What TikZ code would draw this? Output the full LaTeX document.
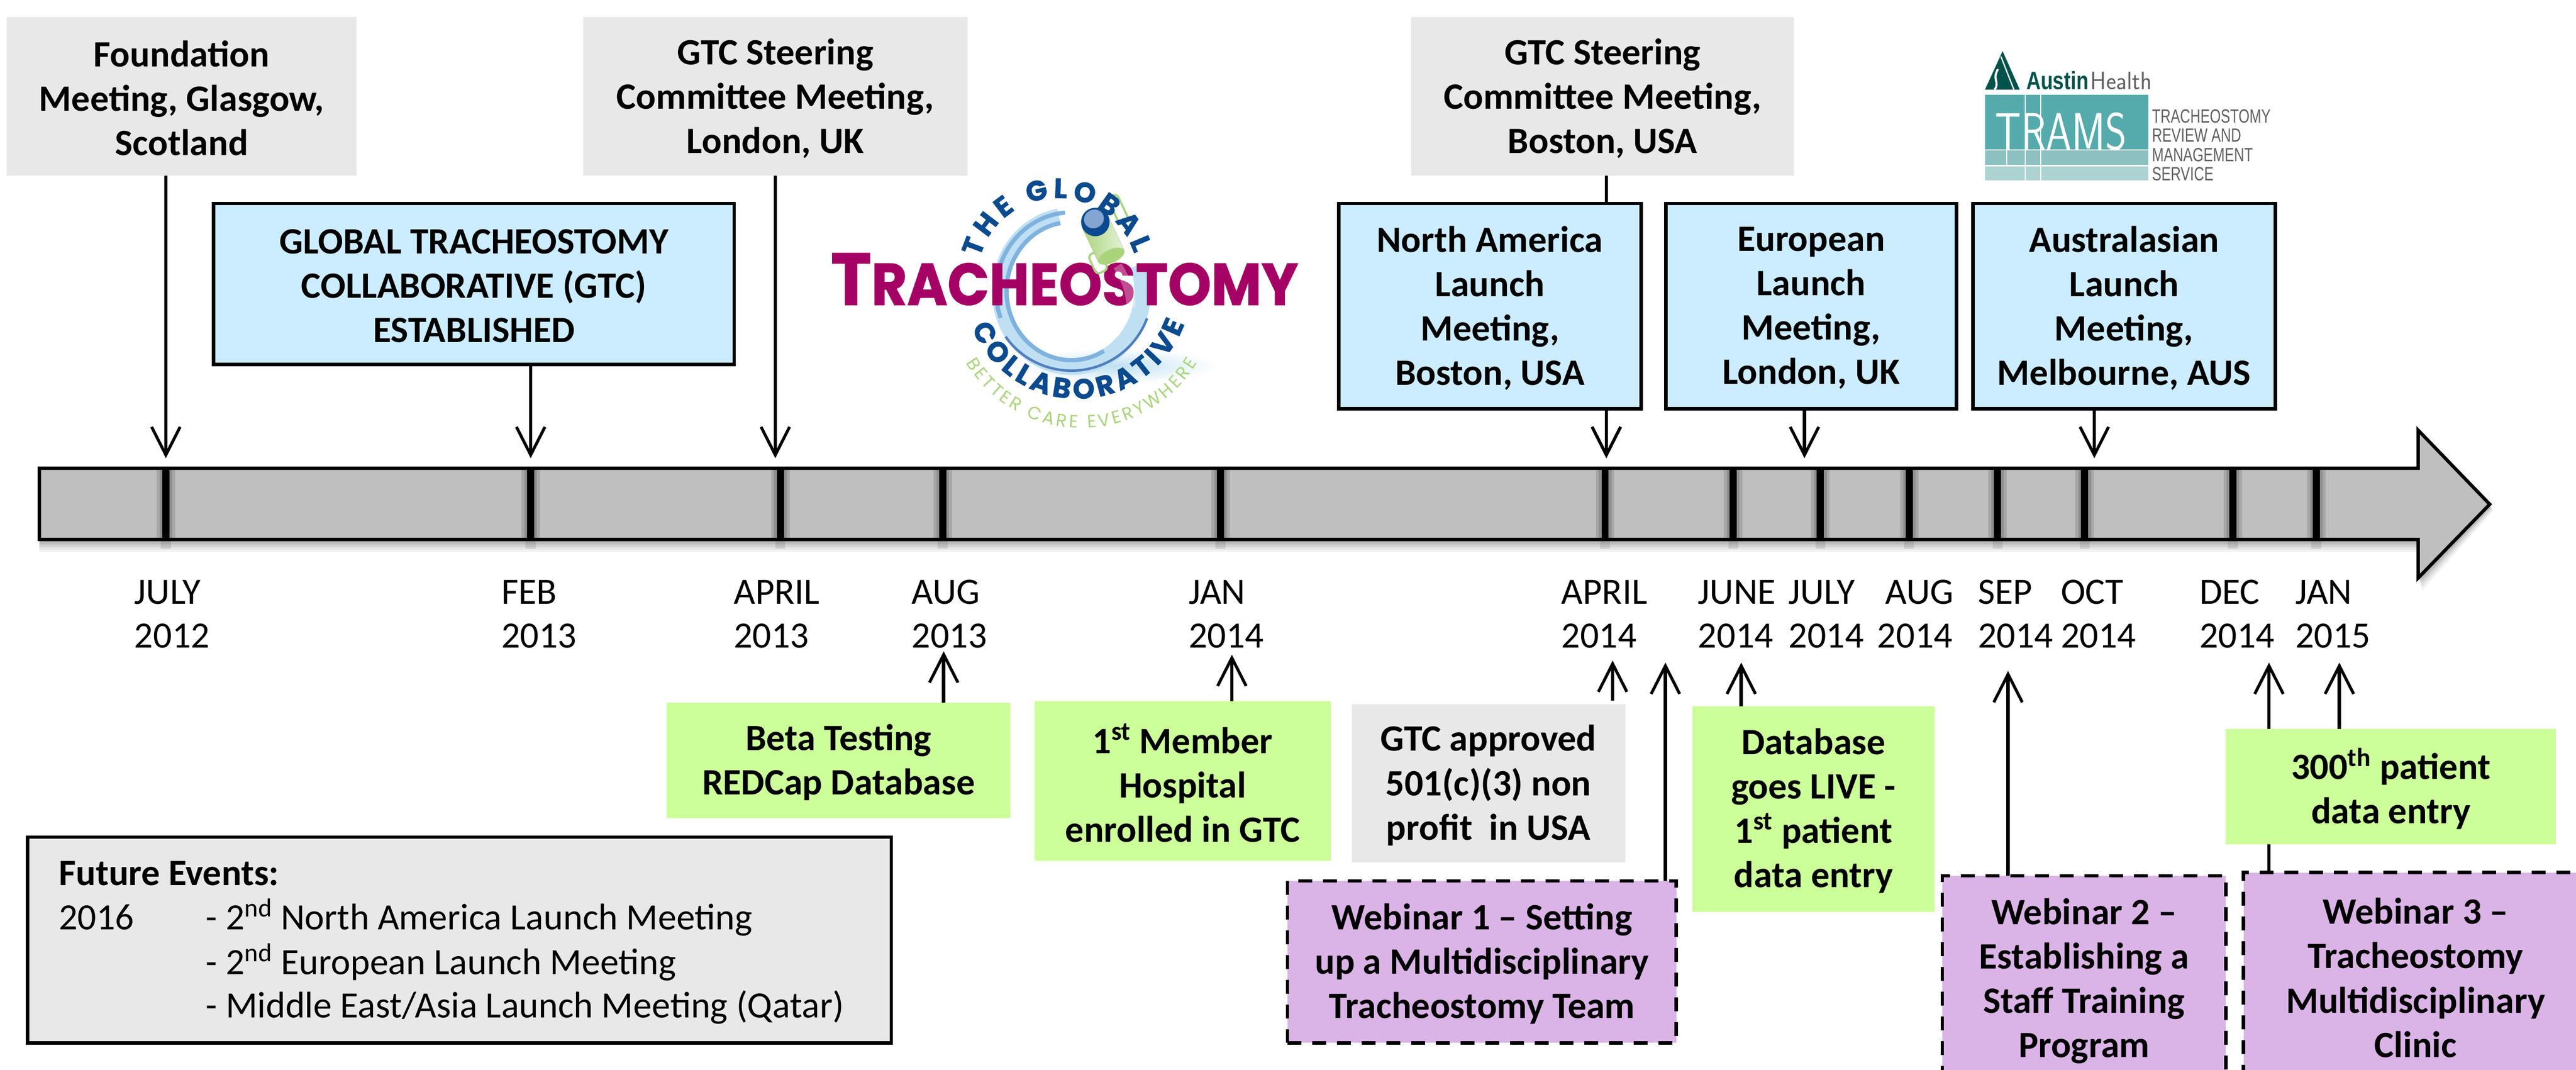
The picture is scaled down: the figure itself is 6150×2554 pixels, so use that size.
\documentclass[tikz,border=0pt]{standalone}
\usepackage{fontspec}
\setmainfont{Carlito}
\newfontfamily\logofont[BoldFeatures={FakeBold=1.2}]{Poppins}
\newfontfamily\trfont{Liberation Sans}
\usetikzlibrary{arrows.meta,decorations.text}
\definecolor{greybox}{HTML}{E8E8E8}
\definecolor{bluebox}{HTML}{CCECFF}
\definecolor{greenbox}{HTML}{CCFF99}
\definecolor{purplebox}{HTML}{DAB4E6}
\definecolor{bar}{HTML}{BFBFBF}
\definecolor{lmag}{HTML}{A50064}
\definecolor{lblue}{HTML}{0B4A8F}
\definecolor{lgreen}{HTML}{AAD47C}
\definecolor{ringA}{HTML}{BFE0F3}
\definecolor{ringB}{HTML}{7FB2DE}
\definecolor{ringC}{HTML}{4F7FBF}
\definecolor{ateal}{HTML}{00524A}
\definecolor{tealA}{HTML}{55ABAC}
\definecolor{tealB}{HTML}{8DC0C1}
\definecolor{tealC}{HTML}{ADD2D2}
\definecolor{tgrey}{HTML}{5F6062}
\tikzset{
 x=0.01cm,y=-0.01cm,
 boxbase/.style={inner sep=0pt,outer sep=0pt},
 boxtext/.style={inner sep=0pt,outer sep=0pt,align=center,yshift=-0.045cm,font=\fontsize{25.2}{30.1}\selectfont\bfseries},
 greyb/.style={boxbase,fill=greybox},
 blueb/.style={boxbase,fill=bluebox,draw=black,line width=0.08cm},
 greenb/.style={boxbase,fill=greenbox},
 webb/.style={boxbase,fill=purplebox,draw=black,line width=0.08cm,dash pattern=on 0.33cm off 0.26cm},
 conn/.style={line width=0.08cm,-{Straight Barb[length=0.67cm,width=0.68cm,line width=0.07cm]}},
 tickm/.style={line width=0.17cm},
 datel/.style={inner sep=0pt,outer sep=0pt,anchor=west,align=left,font=\fontsize{25.2}{29.8}\selectfont},
 futt/.style={anchor=base west,inner sep=0pt,font=\fontsize{25.2}{30}\selectfont},
 tgl/.style={anchor=base west,inner sep=0pt,text=tgrey,font=\trfont\fontsize{13}{13}\selectfont},
}
% name, style, x1,y1,x2,y2, text
\newcommand{\bx}[7]{%
 \pgfmathsetmacro{\cxx}{(#3+#5)/2}\pgfmathsetmacro{\cyy}{(#4+#6)/2}%
 \pgfmathsetmacro{\wdd}{(#5-#3)*0.01}\pgfmathsetmacro{\htt}{(#6-#4)*0.01}%
 \node[#2,minimum width=\wdd cm,minimum height=\htt cm] (#1) at (\cxx,\cyy) {};
 \node[boxtext] (#1text) at (#1.center) {#7};}
\newcommand{\dt}[4]{\node[datel] (#1) at (#2,1466) {#3\\#4};}
\newcommand{\sps}[1]{\textsuperscript{#1}}
\begin{document}
\begin{tikzpicture}
\useasboundingbox (0,0) rectangle (6150,2554);
% timeline shadow
\foreach \o/\a in {30/0.05,24/0.06,18/0.08,12/0.10,6/0.12}{
 \fill[black,opacity=\a] (94,1118+\o) -- (5773+\o*0.3,1118+\o) -- (5773+\o*0.3,1027+\o) -- (5944+\o*0.3,1204+\o*0.5) -- (5773+\o*0.3,1380+\o) -- (5773+\o*0.3,1288+\o) -- (94,1288+\o) -- cycle;
}
\draw[line width=0.08cm,fill=bar,miter limit=10] (94,1118) -- (5773,1118) -- (5773,1027) -- (5944,1204) -- (5773,1380) -- (5773,1288) -- (94,1288) -- cycle;
\foreach \t in {396,1267,1863,2251,2914,3832,4138,4346,4558,4769,4977,5331,5530}{
 \draw[black,opacity=.12,line width=0.44cm] (\t,1122) -- (\t,1284);
 \draw[black,opacity=.15,line width=0.30cm] (\t,1122) -- (\t,1284);
 \draw[black,opacity=.10,line width=0.24cm] (\t,1288) -- (\t,1310);
 \draw[tickm] (\t,1118) -- (\t,1288);
}
\coordinate (ta) at (396,1094);
\coordinate (tb) at (1267,1094);
\coordinate (tc) at (1851,1094);
\coordinate (td) at (3835,1094);
\coordinate (te) at (4308,1094);
\coordinate (tf) at (5000,1094);
% upper arrows
\bx{foundation}{greyb}{16}{40}{851}{420}{Foundation\\Meeting, Glasgow,\\Scotland}
\bx{london}{greyb}{1392}{40}{2310}{420}{GTC Steering\\Committee Meeting,\\London, UK}
\bx{boston}{greyb}{3369}{40}{4283}{420}{GTC Steering\\Committee Meeting,\\Boston, USA}
\draw[conn] (foundation.south -| ta) -- (ta);
\draw[conn] (london.south -| tc) -- (tc);
\draw[conn] (boston.south -| td) -- (td);
\bx{gtc}{blueb}{510}{486}{1753}{870}{GLOBAL TRACHEOSTOMY\\COLLABORATIVE (GTC)\\ESTABLISHED}
\bx{na}{blueb}{3196}{486}{3918}{976}{North America\\Launch\\Meeting,\\Boston, USA}
\bx{eu}{blueb}{3977}{486}{4671}{976}{European\\Launch\\Meeting,\\London, UK}
\bx{au}{blueb}{4710}{486}{5432}{976}{Australasian\\Launch\\Meeting,\\Melbourne, AUS}
\draw[conn] (gtc.south -| tb) -- (tb);
\draw[conn] (na.south -| td) -- (td);
\draw[conn] (eu.south -| te) -- (te);
\draw[conn] (au.south -| tf) -- (tf);
% dates
\dt{d1}{321}{JULY}{2012}
\dt{d2}{1197}{FEB}{2013}
\dt{d3}{1752}{APRIL}{2013}
\dt{d4}{2177}{AUG}{2013}
\dt{d5}{2838}{JAN}{2014}
\dt{d6}{3728}{APRIL}{2014}
\dt{d7}{4054}{JUNE}{2014}
\dt{d8}{4270}{JULY}{2014}
\dt{d9}{4482}{\hspace*{0.19cm}AUG}{2014}
\dt{d10}{4722}{SEP}{2014}
\dt{d11}{4920}{OCT}{2014}
\dt{d12}{5251}{DEC}{2014}
\dt{d13}{5480}{JAN}{2015}
% lower arrows
\coordinate (ua) at (2253,1555);
\coordinate (ub) at (2941,1563);
\coordinate (uc) at (3850,1577);
\coordinate (ud) at (3976,1582);
\coordinate (ue) at (4157,1582);
\coordinate (uf) at (4794,1602);
\coordinate (ug) at (5417,1582);
\coordinate (uh) at (5585,1582);
\coordinate (ucs) at (3850,1673);
\bx{web3}{webb}{5356}{2083}{6178}{2577}{Webinar 3 --\\Tracheostomy\\Multidisciplinary\\Clinic}
\draw[conn] (web3.north -| ug) -- (ug);
\bx{beta}{greenb}{1592}{1678}{2412}{1953}{Beta Testing\\REDCap Database}
\bx{member}{greenb}{2470}{1674}{3177}{2055}{1\sps{st} Member\\Hospital\\enrolled in GTC}
\bx{approved}{greyb}{3227}{1682}{3880}{2059}{GTC approved\\501(c)(3) non\\profit\ \ in USA}
\bx{db}{greenb}{4040}{1686}{4619}{2177}{Database\\goes LIVE -\\1\sps{st} patient\\data entry}
\bx{p300}{greenb}{5314}{1741}{6102}{2016}{300\sps{th} patient\\data entry}
\draw[conn] (beta.north -| ua) -- (ua);
\draw[conn] (member.north -| ub) -- (ub);
\draw[conn] (ucs) -- (uc);
\draw[conn] (db.north -| ue) -- (ue);
\draw[conn] (p300.north -| uh) -- (uh);
\bx{web1}{webb}{3074}{2103}{4002}{2490}{Webinar 1 -- Setting\\up a Multidisciplinary\\Tracheostomy Team}
\bx{web2}{webb}{4637}{2091}{5314}{2585}{Webinar 2 --\\Establishing a\\Staff Training\\Program}
\draw[conn] (web1.north -| ud) -- (ud);
\draw[conn] (web2.north -| uf) -- (uf);
% future box
\bx{future}{boxbase,fill=greybox,draw=black,line width=0.08cm}{66}{1999}{2128}{2490}{}
\node[futt,font=\fontsize{25.2}{30}\selectfont\bfseries] (f0) at (140,2114) {Future Events:};
\node[futt] (f1) at (140,2220) {2016};
\node[futt] (f2) at (491,2220) {- 2\sps{nd} North America Launch Meeting};
\node[futt] (f3) at (491,2327) {- 2\sps{nd} European Launch Meeting};
\node[futt] (f4) at (491,2430) {- Middle East/Asia Launch Meeting (Qatar)};
% GTC logo: soft base and ring
\shade[inner color=ringA,outer color=white] (2666,874) ellipse[x radius=2.4cm,y radius=0.42cm];
\draw[line width=0.40cm,ringA] plot[smooth,domain=100:380,samples=40] ({2558+(170)*cos(\x)},{695-(180)*sin(\x)});
\draw[line width=0.10cm,ringB] plot[smooth,domain=100:300,samples=30] ({2558+(155)*cos(\x)},{695-(165)*sin(\x)});
\draw[line width=0.10cm,ringB] plot[smooth,domain=95:200,samples=20] ({2558+(180)*cos(\x)},{695-(188)*sin(\x)});
\draw[line width=0.06cm,ringC] plot[smooth,domain=215:340,samples=30] ({2558+(192)*cos(\x)},{695-(190)*sin(\x)});
\node[anchor=base west,inner sep=0pt,text=lmag] (trach) at (1983,728) {\scalebox{.93}[1]{\logofont\bfseries\fontsize{50}{50}\selectfont T\fontsize{40}{40}\selectfont RACHEOSTOMY}};
\draw[white,opacity=.3,line width=0.22cm] (2668,635) .. controls (2690,670) and (2700,700) .. (2700,735);
% tube
\begin{scope}[shift={(2615,530)},rotate=25]
 \draw[lgreen,line width=0.05cm,rounded corners=0.1cm] (-50,65) rectangle (-20,115);
 \draw[lgreen,line width=0.05cm,rounded corners=0.1cm] (50,-40) rectangle (75,30);
 \fill[left color=lgreen,right color=lgreen!30!white] (-34,0) rectangle (34,90);
 \fill[lgreen] (0,90) ellipse[x radius=0.34cm,y radius=0.16cm];
 \fill[lblue] (0,0) ellipse[x radius=0.34cm,y radius=0.34cm];
 \fill[ringC!70!white] (0,-8) ellipse[x radius=0.24cm,y radius=0.22cm];
\end{scope}
\path[decorate,decoration={text along path,text align=fit to path,text={|\logofont\bfseries\fontsize{19}{19}\selectfont\color{lblue}|THE GLOBAL}}] ({2525+192*cos(165)},{665-192*sin(165)}) arc[start angle=165,end angle=18,radius=1.92cm];
\path[decorate,decoration={text along path,text align=fit to path,text={|\logofont\bfseries\fontsize{19}{19}\selectfont\color{lblue}|COLLABORATIVE}}] ({2572+272*cos(202)},{680-272*sin(202)}) arc[start angle=202,end angle=340,radius=2.72cm];
\path[decorate,decoration={text along path,text align=fit to path,text={|\logofont\fontsize{12}{12}\selectfont\color{lgreen}|BETTER CARE EVERYWHERE}}] ({2582+322*cos(211)},{700-322*sin(211)}) arc[start angle=211,end angle=329,radius=3.22cm];
% Austin logo
\fill[ateal] (4781,122) -- (4739,214) -- (4822,214) -- cycle;
\draw[white,line width=0.03cm] (4777,135) -- (4808,214);
\draw[white,line width=0.05cm] (4770,165) .. controls (4755,190) and (4775,195) .. (4762,214);
\node[anchor=base west,inner sep=0pt,text=ateal,font=\trfont\bfseries\fontsize{17}{17}\selectfont] (aust) at (4837,214) {\scalebox{.8}[1]{Austin}};
\node[anchor=base west,inner sep=0pt,text=tgrey,font=\sffamily\fontsize{17}{17}\selectfont] (heal) at (4990,214) {\scalebox{.95}[1]{Health}};
\fill[tealA] (4739,226) rectangle (5129,357);
\fill[tealB] (4739,359) rectangle (5129,393);
\fill[tealC] (4739,397) rectangle (5129,431);
\draw[white,line width=0.02cm] (4835,226) -- (4835,431);
\draw[white,line width=0.02cm] (4872,226) -- (4872,431);
\draw[white,line width=0.03cm] (4791,357) -- (4791,393);
\node[anchor=base west,inner sep=0pt,text=white,font=\sffamily\fontsize{35.5}{35.5}\selectfont] (trams) at (4763,357) {\scalebox{.78}[1]{TRAMS}};
\node[tgl] (l1) at (5137,293) {\scalebox{.735}[1]{TRACHEOSTOMY}};
\node[tgl] (l2) at (5137,339) {\scalebox{.735}[1]{REVIEW AND}};
\node[tgl] (l3) at (5137,385) {\scalebox{.735}[1]{MANAGEMENT}};
\node[tgl] (l4) at (5137,431) {\scalebox{.735}[1]{SERVICE}};
\end{tikzpicture}
\end{document}
